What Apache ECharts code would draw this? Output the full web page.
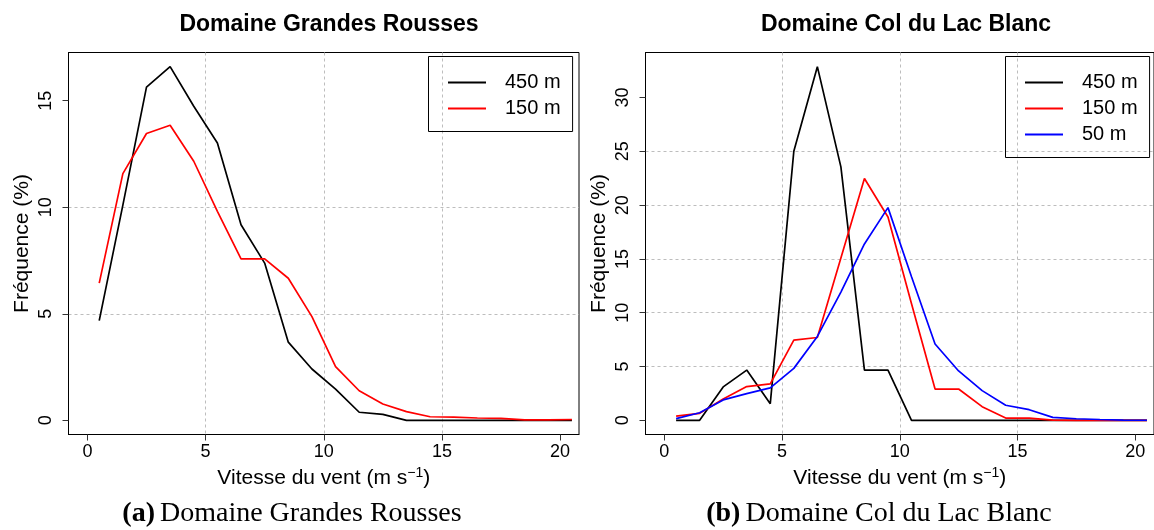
<!DOCTYPE html>
<html>
<head>
<meta charset="utf-8">
<title>Fréquence des vitesses de vent</title>
<script src="https://cdn.jsdelivr.net/npm/echarts@6/dist/echarts.min.js"></script>
<style>
  html, body { margin: 0; padding: 0; background: #fff; }
  #chart { width: 1154px; height: 530px; }
</style>
</head>
<body>
<div id="chart"></div>
<script>
// wind speed classes (bin centres, m/s)
const windSpeed = [0.5, 1.5, 2.5, 3.5, 4.5, 5.5, 6.5, 7.5, 8.5, 9.5, 10.5,
  11.5, 12.5, 13.5, 14.5, 15.5, 16.5, 17.5, 18.5, 19.5, 20.5];

// (a) Domaine Grandes Rousses, frequency in %
const grandesRousses450 = [4.68, 10.1, 15.64, 16.6, 14.74, 13.02, 9.18, 7.38, 3.67, 2.41, 1.47,
  0.38, 0.28, 0, 0, 0, 0, 0, 0, 0, 0];
const grandesRousses150 = [6.44, 11.58, 13.46, 13.85, 12.16, 9.81, 7.58, 7.58, 6.67, 4.87, 2.52,
  1.39, 0.77, 0.41, 0.17, 0.15, 0.11, 0.09, 0.02, 0.02, 0.04];

// (b) Domaine Col du Lac Blanc, frequency in %
const lacBlanc450 = [0, 0, 3.11, 4.67, 1.55, 25.0, 32.87, 23.56, 4.66, 4.66, 0,
  0, 0, 0, 0, 0, 0, 0, 0, 0, 0];
const lacBlanc150 = [0.4, 0.65, 1.99, 3.14, 3.39, 7.45, 7.7, 15.08, 22.47, 18.9, 10.83,
  2.91, 2.91, 1.27, 0.21, 0.21, 0.02, 0, 0, 0, 0];
const lacBlanc50 = [0.16, 0.71, 1.9, 2.49, 3.02, 4.83, 7.8, 11.92, 16.39, 19.77, 13.34,
  7.1, 4.59, 2.76, 1.4, 0.99, 0.28, 0.15, 0.08, 0.03, 0.01];

// tick labels
const xTicks = [0, 5, 10, 15, 20];
const yTicksA = [0, 5, 10, 15];
const yTicksB = [0, 5, 10, 15, 20, 25, 30];

const titles = ['Domaine Grandes Rousses', 'Domaine Col du Lac Blanc'];
const captions = [['(a)', 'Domaine Grandes Rousses'], ['(b)', 'Domaine Col du Lac Blanc']];

const sans = 'Liberation Sans, Arial, Helvetica, sans-serif';
const serif = 'Liberation Serif, Times New Roman, serif';

const pairs = (vals) => windSpeed.map((x, i) => [x, vals[i]]);

const gridStyle = { color: '#bdbdbd', width: 1, type: [3, 3] };

function xAxisFor(gridIndex) {
  return {
    type: 'value', gridIndex,
    min: -0.8, max: 20.8, splitNumber: 5,
    name: '{a|Vitesse du vent (m s}{s|\u22121}{a|)}',
    nameLocation: 'middle', nameGap: 27,
    nameTextStyle: {
      rich: {
        a: { fontFamily: sans, fontSize: 21, color: '#000', lineHeight: 23 },
        s: { fontFamily: sans, fontSize: 14, color: '#000', verticalAlign: 'top', lineHeight: 23 }
      }
    },
    axisLine: { show: true, onZero: false, lineStyle: { color: '#000', width: 1 } },
    axisTick: { show: true, customValues: xTicks, length: 6, lineStyle: { color: '#333' } },
    axisLabel: { customValues: xTicks, fontFamily: sans, fontSize: 18, color: '#000', margin: 9 },
    splitLine: { show: true, showMinLine: false, showMaxLine: false, lineStyle: gridStyle }
  };
}

function yAxisFor(gridIndex, ymax, ticks, splitNumber) {
  return {
    type: 'value', gridIndex,
    min: -ymax * 0.04, max: ymax * 1.04, splitNumber,
    name: 'Fréquence (%)',
    nameLocation: 'middle', nameGap: 36,
    nameTextStyle: { fontFamily: sans, fontSize: 21, color: '#000' },
    axisLine: { show: true, onZero: false, lineStyle: { color: '#000', width: 1 } },
    axisTick: { show: true, customValues: ticks, length: 6, lineStyle: { color: '#333' } },
    axisLabel: { customValues: ticks, rotate: 90, fontFamily: sans, fontSize: 18, color: '#000', margin: 13 },
    splitLine: { show: true, showMinLine: false, showMaxLine: false, lineStyle: gridStyle }
  };
}

function legendFor(left, names) {
  return {
    left, top: 56.5, orient: 'vertical',
    data: names,
    icon: 'rect',
    borderColor: '#000', borderWidth: 1, borderRadius: 0,
    padding: [16, 12, 13, 19.5],
    itemWidth: 38, itemHeight: 2, itemGap: 6,
    selectedMode: false,
    textStyle: { fontFamily: sans, fontSize: 20, color: '#000', padding: [0, 0, 0, 14] }
  };
}

function lineSeries(name, color, vals, idx) {
  return {
    type: 'line', name, xAxisIndex: idx, yAxisIndex: idx,
    data: pairs(vals), symbol: 'none', clip: true,
    lineStyle: { color, width: 1.7 }, itemStyle: { color }
  };
}

function caption(parts, left) {
  return {
    text: '{b|' + parts[0] + '} {n|' + parts[1] + '}', left, top: 495, textAlign: 'center',
    textStyle: {
      fontWeight: 'normal',
      rich: {
        b: { fontFamily: serif, fontSize: 28, fontWeight: 'bold', color: '#000' },
        n: { fontFamily: serif, fontSize: 28, fontWeight: 'normal', color: '#000' }
      }
    }
  };
}

const chart = echarts.init(document.getElementById('chart'), null, { renderer: 'canvas' });

chart.setOption({
  animation: false,
  backgroundColor: '#fff',
  title: [
    { text: titles[0], left: 324, top: 8, textAlign: 'center',
      textStyle: { fontFamily: sans, fontSize: 23, fontWeight: 'bold', color: '#000' } },
    { text: titles[1], left: 901, top: 8, textAlign: 'center',
      textStyle: { fontFamily: sans, fontSize: 23, fontWeight: 'bold', color: '#000' } },
    caption(captions[0], 287),
    caption(captions[1], 874)
  ],
  legend: [
    legendFor(428.5, ['450 m', '150 m']),
    legendFor(1005.5, ['450 m', '150 m', '50 m'])
  ],
  grid: [
    { left: 68.5, top: 52.5, width: 510.5, height: 382, show: true, borderColor: '#000', borderWidth: 1 },
    { left: 645.5, top: 52.5, width: 510.5, height: 382, show: true, borderColor: '#000', borderWidth: 1 }
  ],
  xAxis: [xAxisFor(0), xAxisFor(1)],
  yAxis: [
    yAxisFor(0, Math.max(...grandesRousses450, ...grandesRousses150), yTicksA, 4),
    yAxisFor(1, Math.max(...lacBlanc450, ...lacBlanc150, ...lacBlanc50), yTicksB, 7)
  ],
  series: [
    lineSeries('450 m', '#000000', grandesRousses450, 0),
    lineSeries('150 m', '#ff0000', grandesRousses150, 0),
    lineSeries('450 m', '#000000', lacBlanc450, 1),
    lineSeries('150 m', '#ff0000', lacBlanc150, 1),
    lineSeries('50 m', '#0000ff', lacBlanc50, 1)
  ]
});
</script>
</body>
</html>
